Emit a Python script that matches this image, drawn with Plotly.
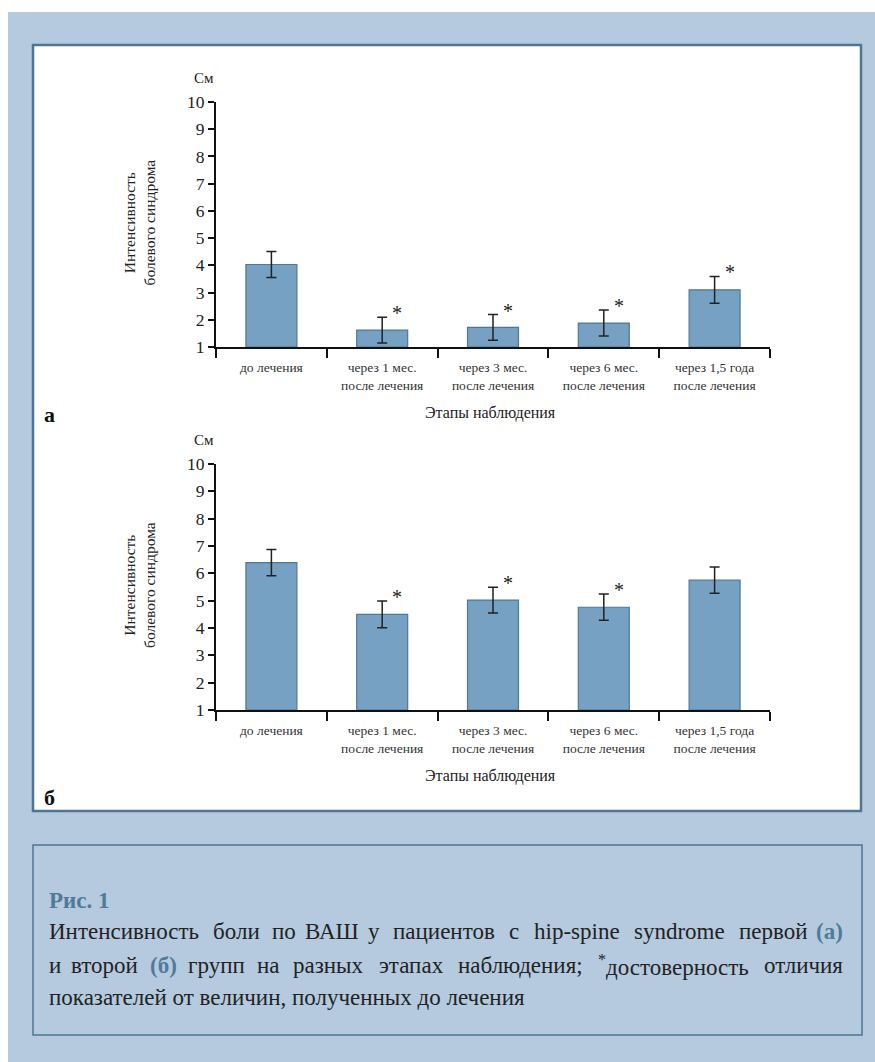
import plotly.graph_objects as go

# ---- data -------------------------------------------------------------
stages = [
    "до лечения",
    "через 1 мес.<br>после лечения",
    "через 3 мес.<br>после лечения",
    "через 6 мес.<br>после лечения",
    "через 1,5 года<br>после лечения",
]
y_ticks = [1, 2, 3, 4, 5, 6, 7, 8, 9, 10]

# group 1 (а)
vas_a = [4.03, 1.62, 1.72, 1.88, 3.10]
err_a = [0.48, 0.47, 0.47, 0.48, 0.49]
sig_a = [False, True, True, True, True]

# group 2 (б)
vas_b = [6.39, 4.50, 5.02, 4.76, 5.75]
err_b = [0.48, 0.49, 0.47, 0.48, 0.48]
sig_b = [False, True, True, True, False]

# ---- geometry helpers (pixels -> paper) --------------------------------
W, H = 875, 1062
def px(x):
    return x / W
def py(y):
    return 1 - y / H

SERIF = "Liberation Serif, Tinos, Times New Roman, DejaVu Serif, serif"
BAR_FILL = "#76a1c3"
BAR_EDGE = "#4f7898"
PANEL = "#b5cadf"
FRAME = "#4d7594"
ACCENT = "#4f7a99"
INK = "#222222"

fig = go.Figure()

panels = [
    dict(vals=vas_a, errs=err_a, sig=sig_a, xa="x", ya="y", top=102, bottom=347, letter="а", letter_y=415),
    dict(vals=vas_b, errs=err_b, sig=sig_b, xa="x2", ya="y2", top=464, bottom=710, letter="б", letter_y=797),
]

annotations = []
for p in panels:
    fig.add_trace(go.Bar(
        x=stages, y=[v - 1 for v in p["vals"]], base=1,
        xaxis=p["xa"], yaxis=p["ya"], width=0.46,
        marker=dict(color=BAR_FILL, line=dict(color=BAR_EDGE, width=1.2)),
        error_y=dict(type="data", array=p["errs"], color=INK, thickness=1.5, width=5),
        showlegend=False, hoverinfo="skip",
    ))
    # significance marks
    for st, v, e, s in zip(stages, p["vals"], p["errs"], p["sig"]):
        if s:
            annotations.append(dict(
                x=st, y=v + e, xref=p["xa"], yref=p["ya"], text="*",
                showarrow=False, xshift=15, yshift=-9, yanchor="bottom",
                font=dict(family=SERIF, size=20, color=INK),
            ))
    # unit label
    annotations.append(dict(
        x=px(204), y=py(p["top"] - 24), xref="paper", yref="paper", text="См",
        showarrow=False, xanchor="center", yanchor="middle",
        font=dict(family=SERIF, size=15, color=INK),
    ))
    # y title
    mid = (p["top"] + p["bottom"]) / 2 - 2
    annotations.append(dict(
        x=px(139), y=py(mid), xref="paper", yref="paper",
        text="Интенсивность<br>болевого синдрома", textangle=-90,
        showarrow=False, xanchor="center", yanchor="middle",
        font=dict(family=SERIF, size=15.5, color=INK),
    ))
    # x title
    annotations.append(dict(
        x=px(490), y=py(p["bottom"] + 66), xref="paper", yref="paper",
        text="Этапы наблюдения", showarrow=False, xanchor="center", yanchor="middle",
        font=dict(family=SERIF, size=16, color=INK),
    ))
    # panel letter
    annotations.append(dict(
        x=px(42), y=py(p["letter_y"]), xref="paper", yref="paper",
        text="<b>" + p["letter"] + "</b>", showarrow=False, xanchor="left", yanchor="middle",
        font=dict(family=SERIF, size=22, color="#111111"),
    ))

# ---- caption (justified lines set word by word) ------------------------
CAP_SIZE = 23
CAP_L, CAP_R = 47, 845

def accent(t):
    return "<b><span style='color:" + ACCENT + "'>" + t + "</span></b>"

def est_width(word, size):
    plain = word.replace("<sup>*</sup>", "")
    w = 0.35 if "<sup>" in word else 0.0
    for ch in plain:
        if ch.isupper():
            w += 0.68
        elif ch.isdigit():
            w += 0.5
        elif ch in "шщжмыюШЩЖМЫЮw":
            w += 0.66
        elif ch in "il.,;:()-*'ј":
            w += 0.28
        else:
            w += 0.5
    return w * size

caption_rows = [
    (931, ["Интенсивность", "боли", "по", "ВАШ", "у", "пациентов", "с", "hip-spine",
           "syndrome", "первой", ("(а)", True)], True),
    (966, ["и", "второй", ("(б)", True), "групп", "на", "разных", "этапах", "наблюдения;",
           "<sup>*</sup>достоверность", "отличия"], True),
    (997, ["показателей от величин, полученных до лечения"], False),
]

annotations.append(dict(
    x=px(CAP_L), y=py(900), xref="paper", yref="paper", text="<b>Рис. 1</b>",
    showarrow=False, xanchor="left", yanchor="middle",
    font=dict(family=SERIF, size=CAP_SIZE, color=ACCENT),
))

for y, words, justify in caption_rows:
    items = [(w, False) if isinstance(w, str) else w for w in words]
    if not justify:
        annotations.append(dict(
            x=px(CAP_L), y=py(y), xref="paper", yref="paper", text=items[0][0],
            showarrow=False, xanchor="left", yanchor="middle",
            font=dict(family=SERIF, size=CAP_SIZE, color=INK),
        ))
        continue
    widths = [est_width(w, CAP_SIZE) for w, _ in items]
    gap = (CAP_R - CAP_L - sum(widths)) / (len(items) - 1)
    cursor = CAP_L
    for i, ((w, acc), wd) in enumerate(zip(items, widths)):
        if i == 0:
            xa, xpos = "left", CAP_L
        elif i == len(items) - 1:
            xa, xpos = "right", CAP_R
        else:
            xa, xpos = "center", cursor + wd / 2
        annotations.append(dict(
            x=px(xpos), y=py(y), xref="paper", yref="paper",
            text=accent(w) if acc else w,
            showarrow=False, xanchor=xa, yanchor="middle",
            font=dict(family=SERIF, size=CAP_SIZE, color=INK),
        ))
        cursor += wd + gap

shapes = [
    # blue panel
    dict(type="rect", xref="paper", yref="paper", x0=px(8), x1=px(875), y0=py(1062), y1=py(12),
         fillcolor=PANEL, line=dict(width=0), layer="below"),
    # white chart box
    dict(type="rect", xref="paper", yref="paper", x0=px(33), x1=px(861), y0=py(811), y1=py(45),
         fillcolor="white", line=dict(color=FRAME, width=2.5), layer="below"),
    # caption box
    dict(type="rect", xref="paper", yref="paper", x0=px(33), x1=px(862), y0=py(1035), y1=py(845),
         fillcolor=PANEL, line=dict(color=FRAME, width=1.5), layer="below"),
]

def xaxis_style(p):
    return dict(
        domain=[px(216), px(770)], anchor=p["ya"], automargin=False,
        type="category", range=[-0.5, 4.5], showline=True, linecolor="#111111", linewidth=2,
        ticks="outside", tickson="boundaries", ticklen=9, tickwidth=2, tickcolor="#111111",
        ticklabelstandoff=7,
        tickfont=dict(family=SERIF, size=13.5, color="#333333"), showgrid=False, zeroline=False,
        fixedrange=True,
    )

def yaxis_style(p):
    return dict(
        domain=[py(p["bottom"]), py(p["top"])], anchor=p["xa"], automargin=False,
        range=[1, 10], tickvals=y_ticks, showline=True, linecolor="#111111", linewidth=2,
        ticks="outside", ticklen=6, tickwidth=2, tickcolor="#111111",
        tickfont=dict(family=SERIF, size=17.5, color=INK), showgrid=False, zeroline=False,
        fixedrange=True,
    )

fig.update_layout(
    width=W, height=H, margin=dict(l=0, r=0, t=0, b=0, pad=0), autosize=False,
    paper_bgcolor="white", plot_bgcolor="rgba(0,0,0,0)",
    xaxis=xaxis_style(panels[0]), yaxis=yaxis_style(panels[0]),
    xaxis2=xaxis_style(panels[1]), yaxis2=yaxis_style(panels[1]),
    shapes=shapes, annotations=annotations, bargap=0.54,
)

fig.write_html("out.html")
